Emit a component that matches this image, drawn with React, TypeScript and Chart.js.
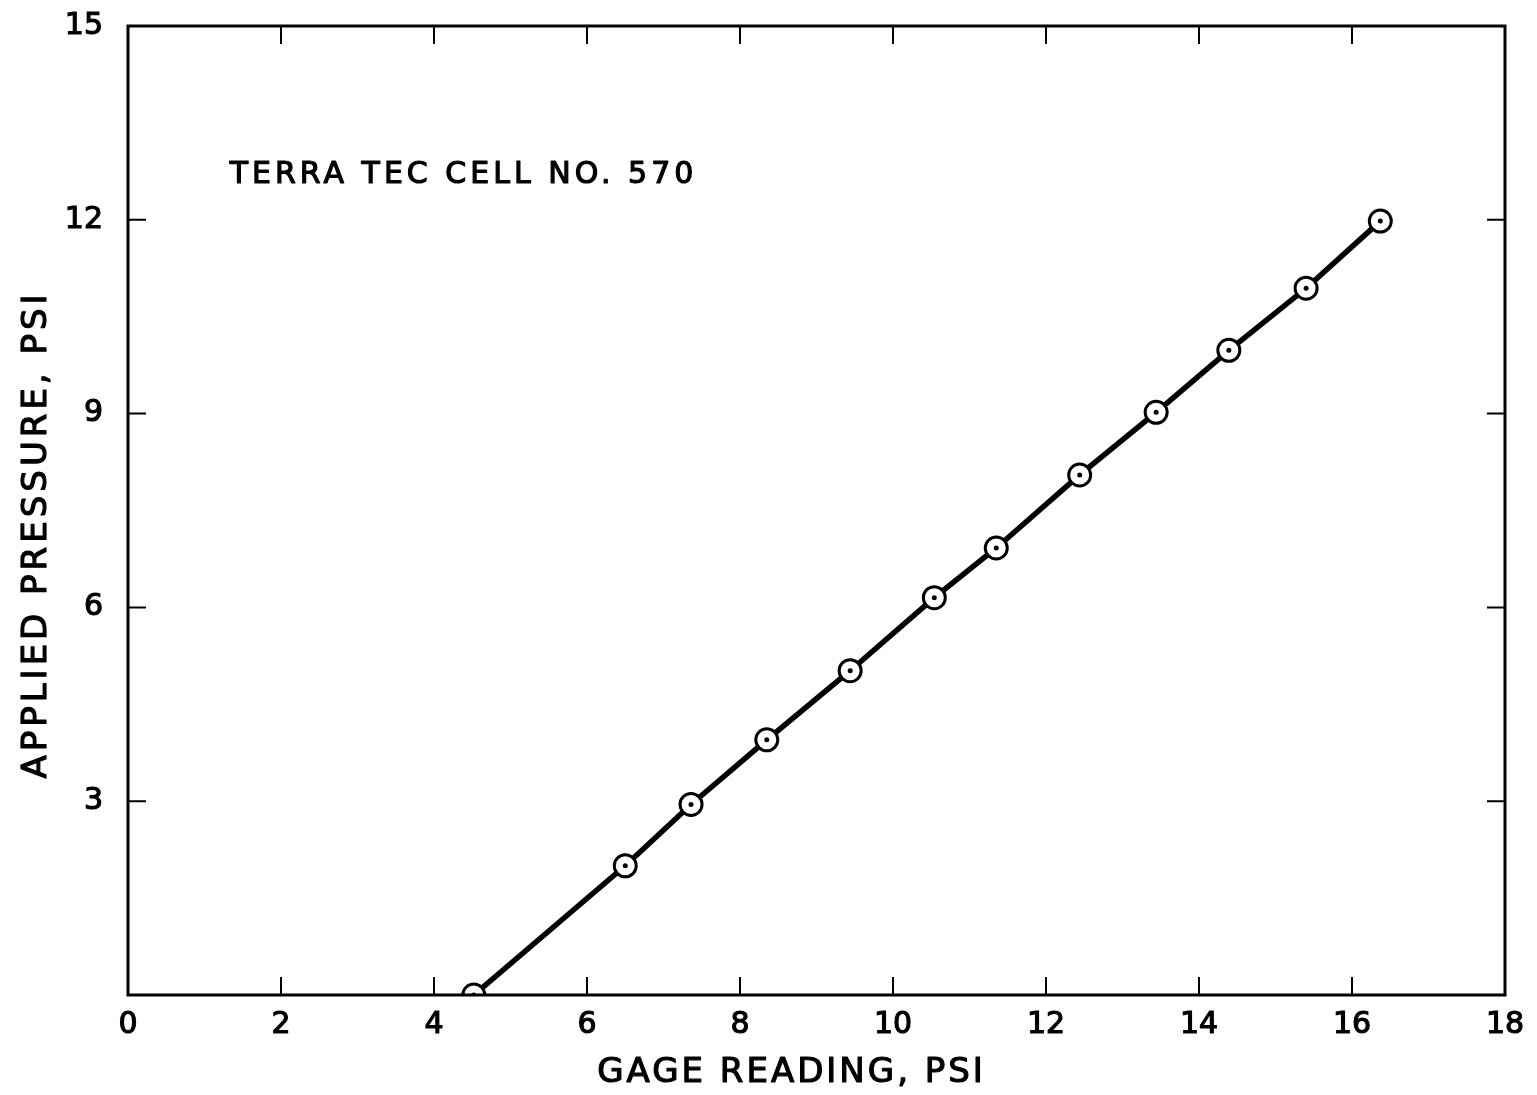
import React, { useEffect, useRef } from "react";
import { Chart, registerables } from "chart.js";

Chart.register(...registerables);

const gageReading = [4.52, 6.5, 7.36, 8.35, 9.44, 10.54, 11.35, 12.44, 13.44, 14.39, 15.4, 16.37];
const appliedPressure = [0.0, 2.0, 2.95, 3.95, 5.02, 6.15, 6.92, 8.05, 9.02, 9.98, 10.94, 11.98];
const xTicks = [0, 2, 4, 6, 8, 10, 12, 14, 16, 18];
const yTicks = [0, 3, 6, 9, 12, 15];
const xTitle = "GAGE READING, PSI";
const yTitle = "APPLIED PRESSURE, PSI";
const note = "TERRA TEC CELL NO. 570";
const notePos = { x: 1.33, y: 12.69 };

const FONT = "'DejaVu Sans', 'Liberation Sans', sans-serif";

function heavyText(ctx: any, text: string, x: number, y: number) {
  ctx.fillText(text, x, y);
  ctx.strokeText(text, x, y);
}

const framePlugin = {
  id: "framePlugin",
  afterDraw(chart: any) {
    const { ctx, chartArea } = chart;
    const xs = chart.scales.x;
    const ys = chart.scales.y;
    const { left, right, top, bottom } = chartArea;
    ctx.save();
    ctx.strokeStyle = "#000";
    ctx.lineWidth = 3;
    ctx.lineCap = "square";
    ctx.strokeRect(left, top, right - left, bottom - top);
    ctx.lineWidth = 2;
    const tl = 17;
    xTicks.forEach((v) => {
      if (v === xTicks[0] || v === xTicks[xTicks.length - 1]) return;
      const px = xs.getPixelForValue(v);
      ctx.beginPath();
      ctx.moveTo(px, bottom);
      ctx.lineTo(px, bottom - tl);
      ctx.moveTo(px, top);
      ctx.lineTo(px, top + tl);
      ctx.stroke();
    });
    yTicks.forEach((v) => {
      if (v === yTicks[0] || v === yTicks[yTicks.length - 1]) return;
      const py = ys.getPixelForValue(v);
      ctx.beginPath();
      ctx.moveTo(left, py);
      ctx.lineTo(left + tl, py);
      ctx.moveTo(right, py);
      ctx.lineTo(right - tl, py);
      ctx.stroke();
    });

    ctx.fillStyle = "#000";
    ctx.strokeStyle = "#000";
    ctx.lineWidth = 1.2;
    ctx.lineJoin = "round";
    ctx.lineCap = "round";
    try { (ctx as any).letterSpacing = "3px"; } catch (e) {}
    ctx.font = `34px ${FONT}`;
    ctx.textAlign = "center";
    ctx.textBaseline = "middle";
    heavyText(ctx, xTitle, (left + right) / 2 - 25, 1065);

    ctx.save();
    ctx.translate(29, (top + bottom) / 2 + 24);
    ctx.rotate(-Math.PI / 2);
    try { (ctx as any).letterSpacing = "4px"; } catch (e) {}
    heavyText(ctx, yTitle, 0, 0);
    ctx.restore();

    try { (ctx as any).letterSpacing = "4px"; } catch (e) {}
    ctx.font = `30px ${FONT}`;
    ctx.textAlign = "left";
    ctx.textBaseline = "middle";
    heavyText(ctx, note, xs.getPixelForValue(notePos.x), ys.getPixelForValue(notePos.y));
    try { (ctx as any).letterSpacing = "0px"; } catch (e) {}
    ctx.restore();
  },
};

export default function App() {
  const ref = useRef<HTMLCanvasElement | null>(null);
  useEffect(() => {
    if (!ref.current) return;
    const pts = gageReading.map((x, i) => ({ x, y: appliedPressure[i] }));
    const chart = new Chart(ref.current, {
      type: "scatter",
      data: {
        datasets: [
          {
            data: pts,
            order: 1,
            showLine: true,
            borderColor: "#000",
            borderWidth: 5.5,
            pointRadius: 11,
            pointHoverRadius: 11,
            pointBorderWidth: 3,
            pointBorderColor: "#000",
            pointBackgroundColor: "#fff",
            clip: 0,
          } as any,
          {
            data: pts,
            order: 0,
            showLine: false,
            pointRadius: 2.5,
            pointHoverRadius: 2.5,
            pointBorderWidth: 0,
            pointBackgroundColor: "#000",
            pointBorderColor: "#000",
            clip: 0,
          } as any,
        ],
      },
      options: {
        animation: false,
        responsive: true,
        maintainAspectRatio: false,
        layout: { padding: { left: 0, top: 18, right: 24, bottom: 0 } },
        plugins: { legend: { display: false }, tooltip: { enabled: false } },
        events: [],
        scales: {
          x: {
            type: "linear",
            min: 0,
            max: 18,
            afterBuildTicks: (s: any) => {
              s.ticks = xTicks.map((v) => ({ value: v }));
            },
            afterFit: (s: any) => {
              s.height = 92;
              s.paddingLeft = 0;
              s.paddingRight = 0;
              s.paddingTop = 0;
              s.paddingBottom = 0;
            },
            grid: { display: false, drawTicks: false },
            border: { display: false },
            ticks: {
              color: "#000",
              padding: 12,
              font: { family: FONT, size: 30 },
              textStrokeColor: "#000",
              textStrokeWidth: 1.2,
              maxRotation: 0,
              autoSkip: false,
            } as any,
          },
          y: {
            type: "linear",
            min: 0,
            max: 15,
            afterBuildTicks: (s: any) => {
              s.ticks = yTicks.map((v) => ({ value: v }));
            },
            afterFit: (s: any) => {
              s.width = 120;
              s.paddingLeft = 0;
              s.paddingRight = 0;
              s.paddingTop = 0;
              s.paddingBottom = 0;
            },
            grid: { display: false, drawTicks: false },
            border: { display: false },
            ticks: {
              color: "#000",
              padding: 25,
              font: { family: FONT, size: 30 },
              textStrokeColor: "#000",
              textStrokeWidth: 1.2,
              autoSkip: false,
              callback: (v: any) => (v === 0 ? "" : String(v)),
            } as any,
          },
        },
      },
      plugins: [framePlugin],
    });
    return () => chart.destroy();
  }, []);
  return (
    <div style={{ position: "relative", width: "100%", height: "1079px" }}>
      <canvas ref={ref} />
    </div>
  );
}
